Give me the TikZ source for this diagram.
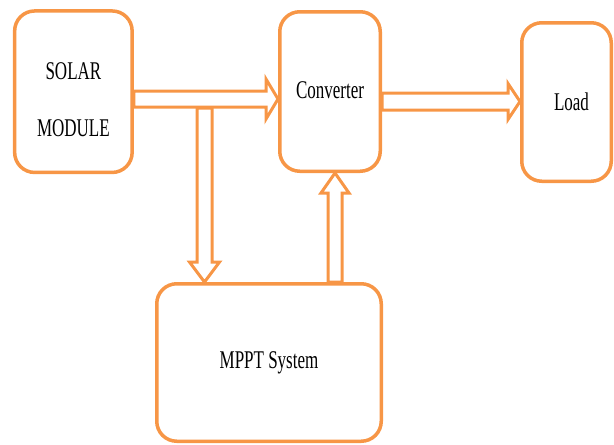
\documentclass[tikz,border=0pt]{standalone}
\usepackage{fontspec}
\usepackage{graphicx}
\setmainfont{Liberation Serif}
\usetikzlibrary{calc}
\definecolor{boxorange}{RGB}{247,150,70}
\newcommand\stretchtext[1]{\scalebox{1}[1.5]{#1}}
% horizontal block arrow: from, to, shaft half width, head half width
\newcommand\harrowdraw[4]{%
  \draw[barrow] let \p1=(#1), \p2=(#2) in
    (\x1,\y1+#3) -- (\x2-12pt,\y1+#3) -- (\x2-12pt,\y1+#4) -- (\x2,\y1)
    -- (\x2-12pt,\y1-#4) -- (\x2-12pt,\y1-#3) -- (\x1,\y1-#3) -- cycle;}
% downward block arrow
\newcommand\darrowdraw[4]{%
  \draw[barrow] let \p1=(#1), \p2=(#2) in
    (\x1-#3,\y1) -- (\x1-#3,\y2+20pt) -- (\x1-#4,\y2+20pt) -- (\x1,\y2)
    -- (\x1+#4,\y2+20pt) -- (\x1+#3,\y2+20pt) -- (\x1+#3,\y1) -- cycle;}
% upward block arrow
\newcommand\uarrowdraw[4]{%
  \draw[barrow] let \p1=(#1), \p2=(#2) in
    (\x1-#3,\y1) -- (\x1-#3,\y2-20pt) -- (\x1-#4,\y2-20pt) -- (\x1,\y2)
    -- (\x1+#4,\y2-20pt) -- (\x1+#3,\y2-20pt) -- (\x1+#3,\y1) -- cycle;}
\tikzset{
  blk/.style={draw=boxorange, line width=3.5pt, rounded corners=20pt, fill=white, inner sep=0pt},
  barrow/.style={draw=boxorange, line width=3pt, fill=white, line join=miter},
  txt/.style={font=\fontsize{17}{20}\selectfont, align=center, inner sep=0pt}
}
\begin{document}
\begin{tikzpicture}[x=1pt,y=-1pt]
\useasboundingbox (0,0) rectangle (614,445);
\node[blk, minimum width=117.5pt, minimum height=161.5pt,
  label={[txt, yshift=-8pt]center:\stretchtext{SOLAR}\\[37pt]\stretchtext{MODULE}}] (solar) at (73.4,91.7) {};
\node[blk, minimum width=100.5pt, minimum height=159.5pt,
  label={[txt, yshift=1.5pt]center:\stretchtext{Converter}}] (conv) at (330,91.5) {};
\node[blk, minimum width=89.5pt, minimum height=158.5pt,
  label={[txt, xshift=5pt]center:\stretchtext{Load}}] (load) at (566.5,102) {};
\node[blk, minimum width=224.5pt, minimum height=157.5pt,
  label={[txt]center:\stretchtext{MPPT System}}] (mppt) at (269,362.5) {};
% connectors
\coordinate (a1s) at (solar.east |- 0,99);
\coordinate (a1e) at (conv.west |- 0,99);
\coordinate (a2s) at (conv.east |- 0,101.5);
\coordinate (a2e) at (load.west |- 0,101.5);
\coordinate (j1) at (204.5,108);
\coordinate (j1e) at (j1 |- mppt.north);
\coordinate (u1) at (335,0);
\coordinate (u1s) at (u1 |- mppt.north);
\coordinate (u1e) at (u1 |- conv.south);
\darrowdraw{j1}{j1e}{7.5pt}{15pt}
\harrowdraw{a1s}{a1e}{8pt}{20pt}
\harrowdraw{a2s}{a2e}{8.5pt}{18pt}
\uarrowdraw{u1s}{u1e}{7pt}{14pt}
\end{tikzpicture}
\end{document}
